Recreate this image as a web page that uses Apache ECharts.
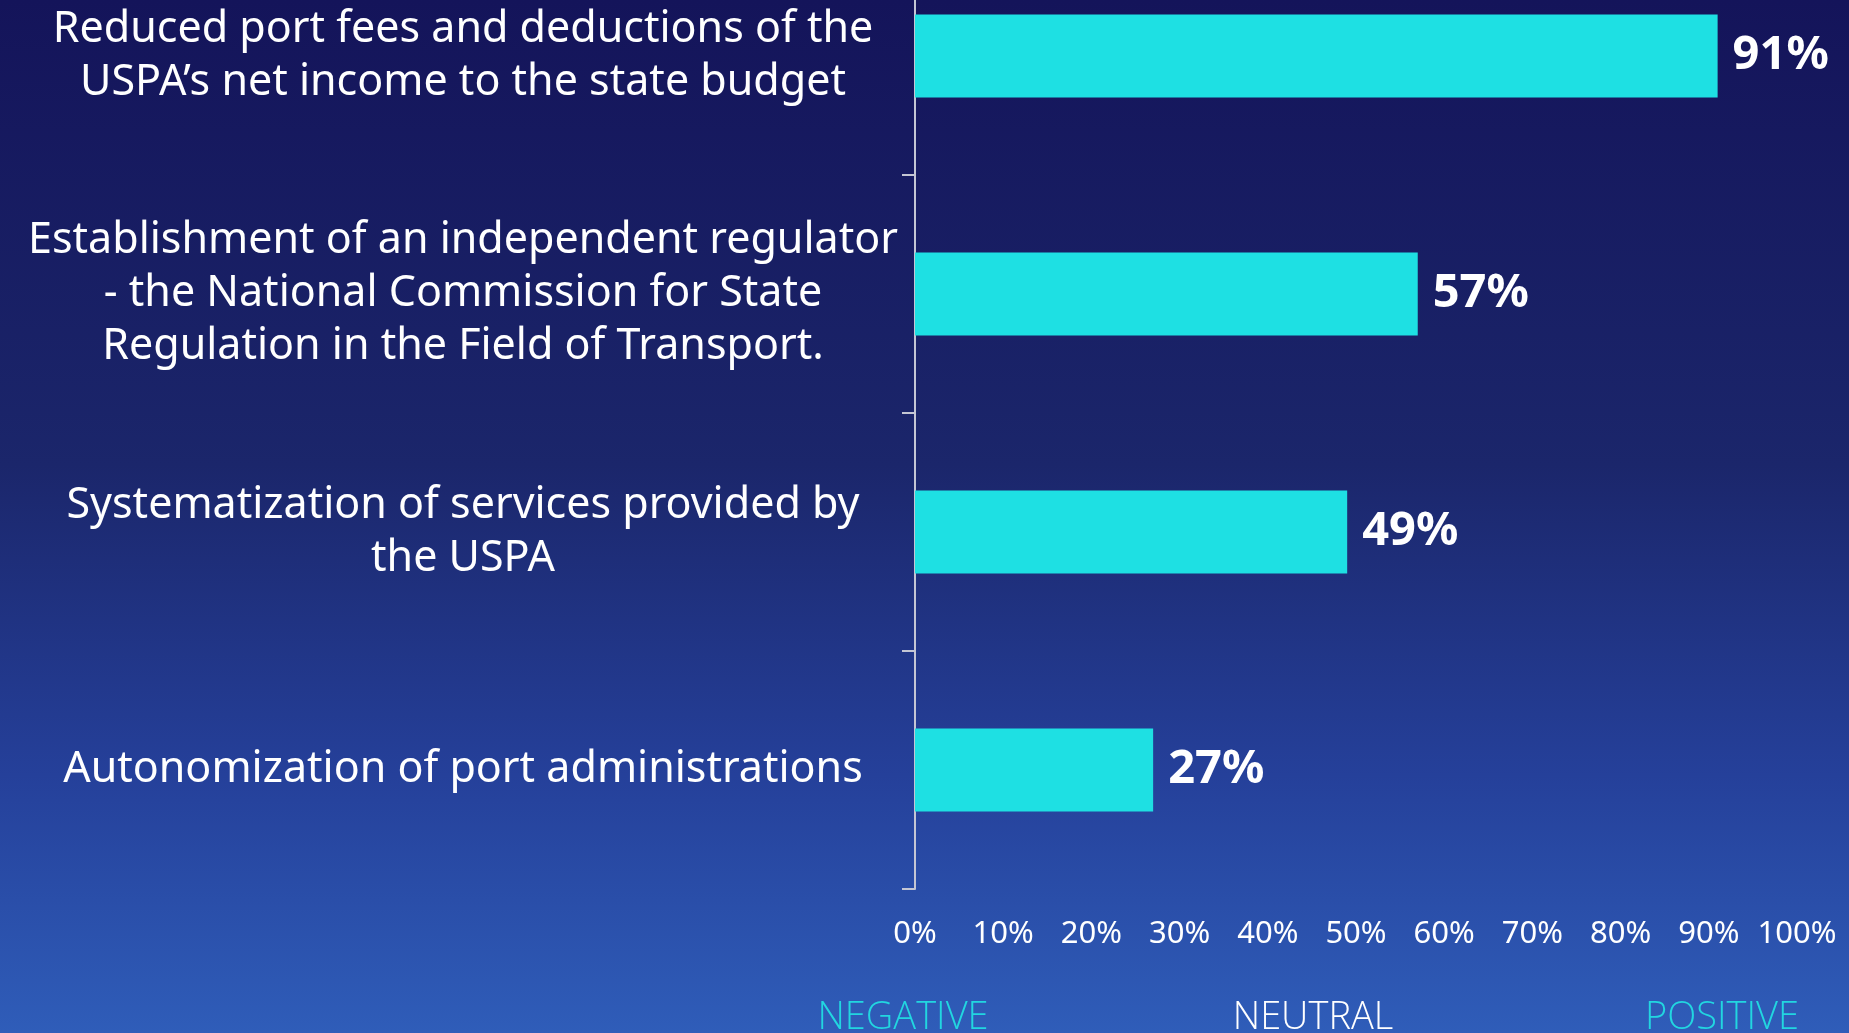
<!DOCTYPE html>
<html>
<head>
<meta charset="utf-8">
<script src="https://cdn.jsdelivr.net/npm/echarts@6/dist/echarts.min.js"></script>
<style>
  html, body { margin: 0; padding: 0; overflow: hidden; width: 1849px; height: 1033px; }
  body { background: linear-gradient(to bottom, #14145a 0%, #1b266b 45%, #25409a 75%, #2f5db9 100%); position: relative; }
  /* the category axis runs above the top edge, so the canvas starts above the window */
  #chart { position: absolute; left: 0; top: -63px; width: 1849px; height: 1096px; }
</style>
</head>
<body>
<div id="chart"></div>
<script>
// reform measures, top to bottom
const categories = [
  'Reduced port fees and deductions of the\nUSPA\u2019s net income to the state budget',
  'Establishment of an independent regulator\n- the National Commission for State\nRegulation in the Field of Transport.',
  'Systematization of services provided by\nthe USPA',
  'Autonomization of port administrations'
];
const shares = [91, 57, 49, 27];
const scaleWords = ['NEGATIVE', 'NEUTRAL', 'POSITIVE'];

const chart = echarts.init(document.getElementById('chart'), null, { renderer: 'canvas' });

const font = '"Noto Sans", "Open Sans", sans-serif';

chart.setOption({
  backgroundColor: 'transparent',
  animation: false,
  grid: { left: 915, top: 0, width: 882, height: 952, containLabel: false },
  xAxis: {
    type: 'value',
    min: 0,
    max: 100,
    interval: 10,
    axisLine: { show: false },
    axisTick: { show: false },
    splitLine: { show: false },
    axisLabel: {
      color: '#ffffff',
      fontFamily: font,
      fontSize: 31,
      margin: 30,
      formatter: '{value}%'
    }
  },
  yAxis: {
    type: 'category',
    inverse: true,
    data: categories,
    axisLine: { show: true, lineStyle: { color: '#c4c6d4', width: 2 } },
    axisTick: { show: true, length: 13, lineStyle: { color: '#c4c6d4', width: 2 } },
    axisLabel: {
      color: '#ffffff',
      fontFamily: font,
      fontSize: 43,
      lineHeight: 53,
      align: 'center',
      margin: 452
    }
  },
  series: [{
    type: 'bar',
    data: shares,
    barWidth: 83,
    itemStyle: { color: '#1ee0e3' },
    label: {
      show: true,
      position: 'right',
      distance: 15,
      color: '#ffffff',
      fontFamily: font,
      fontWeight: 'bold',
      fontSize: 47,
      formatter: '{c}%'
    }
  }],
  graphic: scaleWords.map((w, i) => ({
    type: 'text',
    x: [903, 1313, 1722][i],
    y: 1037 + 63,
    style: {
      text: w,
      fill: i === 1 ? '#ffffff' : '#22d6e0',
      font: '300 38px "Open Sans", "Noto Sans", sans-serif',
      textAlign: 'center',
      textVerticalAlign: 'bottom'
    }
  }))
});
</script>
</body>
</html>
